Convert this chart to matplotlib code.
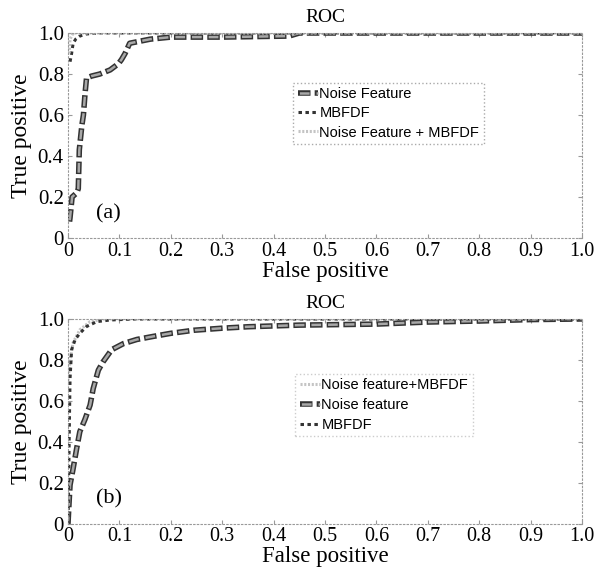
import matplotlib
matplotlib.use('Agg')
import matplotlib.pyplot as plt

plt.rcParams['font.family'] = 'Liberation Serif'
plt.rcParams['lines.scale_dashes'] = False

# (a) curves
a_noise_x = [0.003, 0.004, 0.008, 0.017, 0.02, 0.022, 0.027, 0.03, 0.033, 0.036, 0.046, 0.062,
             0.082, 0.098, 0.104, 0.111, 0.12, 0.14, 0.16, 0.2, 0.3, 0.43, 0.45, 1.0]
a_noise_y = [0.08, 0.10, 0.2, 0.22, 0.24, 0.43, 0.55, 0.6, 0.7, 0.78, 0.79, 0.8,
             0.82, 0.85, 0.87, 0.9, 0.95, 0.96, 0.97, 0.98, 0.98, 0.985, 1.0, 1.0]
a_mbfdf_x = [0.004, 0.007, 0.01, 0.015, 0.023, 0.035, 0.06, 1.0]
a_mbfdf_y = [0.86, 0.9, 0.95, 0.97, 0.985, 0.995, 1.0, 1.0]
a_both_x = [0.002, 0.004, 0.01, 1.0]
a_both_y = [0.9, 0.97, 1.0, 1.0]

# (b) curves
b_noise_x = [0, 0.002, 0.004, 0.01, 0.017, 0.023, 0.033, 0.043, 0.049, 0.059, 0.068, 0.085,
             0.108, 0.134, 0.166, 0.2, 0.245, 0.3, 0.35, 0.45, 0.6, 0.7, 0.8, 0.9, 1.0]
b_noise_y = [0, 0.1, 0.19, 0.27, 0.37, 0.45, 0.51, 0.58, 0.66, 0.75, 0.79, 0.85,
             0.88, 0.9, 0.915, 0.93, 0.945, 0.955, 0.962, 0.97, 0.975, 0.985, 0.99, 0.997, 1.0]
b_mbfdf_x = [0, 0.001, 0.003, 0.004, 0.007, 0.014, 0.023, 0.036, 0.056, 0.082, 0.13, 1.0]
b_mbfdf_y = [0, 0.15, 0.55, 0.71, 0.85, 0.9, 0.93, 0.963, 0.987, 0.995, 1.0, 1.0]
b_both_x = [0, 0.004, 0.01, 0.023, 0.043, 0.07, 1.0]
b_both_y = [0.7, 0.8, 0.885, 0.947, 0.987, 1.0, 1.0]

xticks = [0, 0.1, 0.2, 0.3, 0.4, 0.5, 0.6, 0.7, 0.8, 0.9, 1.0]
xlabels = ['0', '0.1', '0.2', '0.3', '0.4', '0.5', '0.6', '0.7', '0.8', '0.9', '1.0']
yticks = [0, 0.2, 0.4, 0.6, 0.8, 1.0]
ylabels = ['0', '0.2', '0.4', '0.6', '0.8', '1.0']

fig = plt.figure(figsize=(6.05, 5.70), dpi=100)
ax1 = fig.add_axes([0.1124, 0.5825, 0.8496, 0.3596])
ax2 = fig.add_axes([0.1124, 0.0810, 0.8496, 0.3594])


def noise_line(ax, x, y):
    # thick dash with dark rim and grey fill
    l1, = ax.plot(x, y, color='#333333', lw=4, dashes=(9, 3), dash_capstyle='butt')
    l2, = ax.plot(x, y, color='#a8a8a8', lw=1.8, linestyle=(11, (7, 5)))
    return (l1, l2)


def mbfdf_line(ax, x, y):
    l, = ax.plot(x, y, color='#333333', lw=2.2, dashes=(2.5, 2.5))
    return l


def both_line(ax, x, y):
    l, = ax.plot(x, y, color='#c4c4c4', lw=2.2, dashes=(1.5, 1.2))
    return l


def style(ax, tag, xpad, lpad):
    ax.set_xlim(0, 1)
    ax.set_ylim(0, 1)
    ax.set_xticks(xticks)
    ax.set_xticklabels(xlabels, fontsize=14.5)
    ax.set_yticks(yticks)
    ax.set_yticklabels(ylabels, fontsize=15)
    ax.tick_params(direction='in', length=3, color='#999999', top=True, right=True, pad=3)
    ax.tick_params(axis='x', pad=xpad)
    for s in ax.spines.values():
        s.set_color('#999999')
        s.set_linewidth(0.8)
        s.set_linestyle(':')
    ax.set_title('ROC', fontsize=14, pad=8)
    ax.set_xlabel('False positive', fontsize=16.5, labelpad=lpad)
    ax.set_ylabel('True positive', fontsize=17, labelpad=4)
    ax.text(0.055, 0.12, tag, fontsize=16, va='center')


# (a)
h1 = noise_line(ax1, a_noise_x, a_noise_y)
h2 = mbfdf_line(ax1, a_mbfdf_x, a_mbfdf_y)
h3 = both_line(ax1, a_both_x, a_both_y)
style(ax1, '(a)', 3, 0)
leg1 = ax1.legend([h1, h2, h3], ['Noise Feature', 'MBFDF', 'Noise Feature + MBFDF'],
                  loc='upper left', bbox_to_anchor=(0.438, 0.756), prop={'family': 'Liberation Sans', 'size': 10.5},
                  handlelength=1.4, handletextpad=0.1, labelspacing=0.35, borderpad=0.3,
                  fancybox=False, framealpha=1, borderaxespad=0)
leg1.get_frame().set_edgecolor('#aaaaaa')
leg1.get_frame().set_linestyle(':')

# (b)
g1 = both_line(ax2, b_both_x, b_both_y)
g2 = noise_line(ax2, b_noise_x, b_noise_y)
g3 = mbfdf_line(ax2, b_mbfdf_x, b_mbfdf_y)
style(ax2, '(b)', 2, 0)
leg2 = ax2.legend([g1, g2, g3], ['Noise feature+MBFDF', 'Noise feature', 'MBFDF'],
                  loc='upper left', bbox_to_anchor=(0.442, 0.732), prop={'family': 'Liberation Sans', 'size': 10.5},
                  handlelength=1.4, handletextpad=0.1, labelspacing=0.4, borderpad=0.3,
                  fancybox=False, framealpha=1, borderaxespad=0)
leg2.get_frame().set_edgecolor('#cccccc')
leg2.get_frame().set_linestyle(':')

fig.savefig('out.png', dpi=100)
